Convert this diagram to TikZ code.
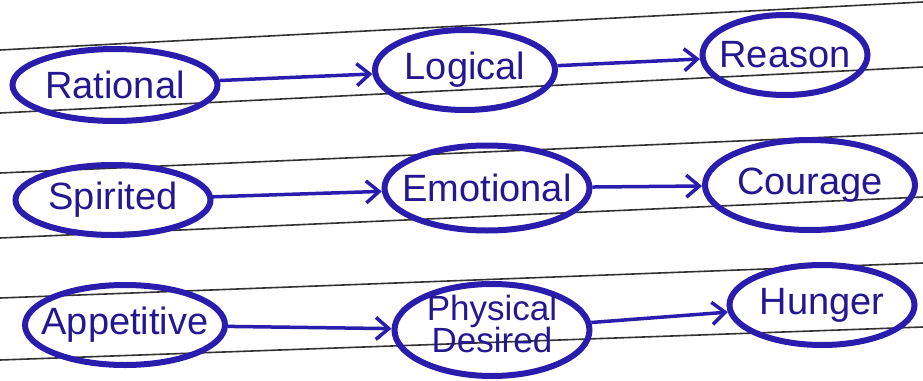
\documentclass[tikz,border=0pt]{standalone}
\usepackage{fontspec}
\setmainfont{Liberation Sans}
\usetikzlibrary{arrows.meta, shapes.geometric}

\definecolor{ink}{RGB}{42,28,172}
\definecolor{rule}{RGB}{50,50,50}

\begin{document}
\begin{tikzpicture}[
        x=1pt, y=-1pt,
        oval/.style={ellipse, draw=ink, line width=6pt, inner sep=0pt, text=ink!85!black, font=\fontsize{38}{42}\selectfont},
        line/.style={draw=ink, line width=3.5pt, -{Straight Barb[length=13pt, width=22pt, line width=3.5pt]}},
        ruled/.style={draw=rule, line width=1.6pt}
        ]
        \useasboundingbox (0,0) rectangle (923,380);
        \fill[white] (0,0) rectangle (923,380);

        % ruled paper
        \draw[ruled] (0,50) -- (923,2);
        \draw[ruled] (0,113) -- (923,67);
        \draw[ruled] (0,173) -- (923,133);
        \draw[ruled] (0,238) -- (923,197);
        \draw[ruled] (0,298) -- (923,263);
        \draw[ruled] (0,360) -- (923,327);

        % first row
        \node[oval, minimum width=205, minimum height=72] (rational) at (115,85) {\makebox[0pt]{Rational}};
        \node[oval, minimum width=180, minimum height=80] (logical) at (465,70) {\makebox[0pt]{Logical}};
        \node[oval, minimum width=165, minimum height=80] (reason) at (785,55) {\makebox[0pt]{Reason}};

        % second row
        \node[oval, minimum width=195, minimum height=70] (spirited) at (113,200) {\makebox[0pt]{Spirited}};
        \node[oval, minimum width=205, minimum height=85] (emotional) at (487,188) {\makebox[0pt]{Emotional}};
        \node[oval, minimum width=210, minimum height=90] (courage) at (810,185) {\makebox[0pt]{Courage}};

        % third row
        \node[oval, minimum width=200, minimum height=80] (appetitive) at (125,325) {\makebox[0pt]{Appetitive}};
        \node[oval, minimum width=195, minimum height=92, text height=14pt, text depth=4pt,
              font=\fontsize{35}{38}\selectfont] (physical) at (492,330)
              {\makebox[0pt]{\begin{tabular}{@{}c@{}}Physical\\[-6pt]Desired\end{tabular}}};
        \node[oval, minimum width=185, minimum height=80] (hunger) at (822,305) {\makebox[0pt]{Hunger}};

        \path[line] (rational) -- (logical);
        \path[line] (logical) -- (reason);
        \path[line] (spirited) -- (emotional);
        \path[line] (emotional) -- (courage);
        \path[line] (appetitive) -- (physical);
        \path[line] (physical) -- (hunger);
      \end{tikzpicture}
\end{document}
